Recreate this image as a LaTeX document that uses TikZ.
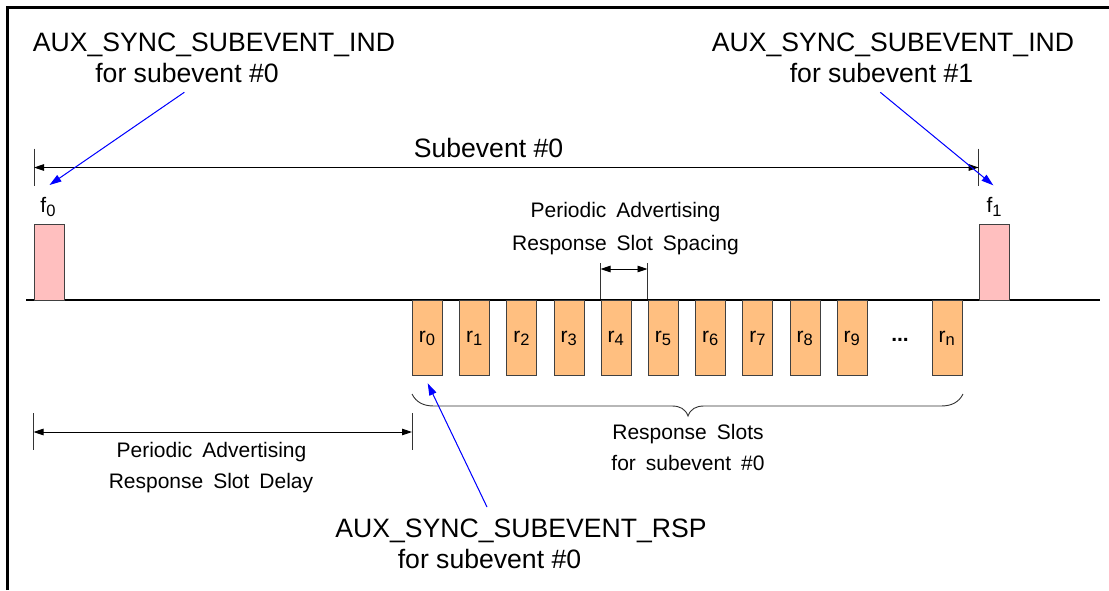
\documentclass[tikz,border=0pt]{standalone}
\usepackage{fontspec}
\setmainfont{Liberation Sans}
\usetikzlibrary{arrows.meta}
\definecolor{slotfill}{HTML}{FFBF80}
\definecolor{pinkfill}{HTML}{FFBFBF}
\definecolor{boxedge}{HTML}{404040}
\definecolor{tickgray}{HTML}{333333}
\definecolor{arrowblue}{HTML}{0000FF}
\newcommand\lowsub[1]{\raisebox{-3.5pt}{\fontsize{16.5}{16.5}\selectfont #1}}
\newcommand\smallfnt{\fontsize{21}{25}\selectfont}
\newcommand\widesp{\spaceskip=10pt plus 1pt\relax}
\tikzset{
  bigtext/.style={font=\fontsize{26.6}{30}\selectfont, inner sep=0pt, anchor=base},
  smalltext/.style={font=\smallfnt, execute at begin node=\widesp, inner sep=0pt, anchor=base},
  slotbox/.style={draw=boxedge, fill=slotfill, line width=0.9pt, minimum width=30pt, minimum height=75.5pt, inner sep=0pt, anchor=north west},
  framebox/.style={draw=boxedge, fill=pinkfill, line width=0.9pt, minimum width=30pt, minimum height=75.5pt, inner sep=0pt, anchor=north west},
  dimline/.style={line width=0.9pt, {Triangle[length=10pt,width=6.5pt]}-{Triangle[length=10pt,width=6.5pt]}},
  tickline/.style={line width=0.9pt, draw=tickgray},
  bluearrow/.style={line width=1pt, draw=arrowblue, -{Triangle[length=12pt,width=7.5pt]}, fill=arrowblue},
}
\begin{document}
\begin{tikzpicture}[x=1pt,y=-1pt]
\useasboundingbox (0,0) rectangle (1109,590);
% outer frame (partially visible)
\draw[line width=2.5pt] (7.7,590) -- (7.7,7.7) -- (1109,7.7);

% time baseline
\coordinate (bl0) at (26,299.5);
\coordinate (bl1) at (1100,299.5);
\draw[line width=2pt] (bl0) -- (bl1);

% advertising frames f0, f1
\node[framebox] (f0box) at (33.5,224) {};
\node[framebox] (f1box) at (979,224) {};
\node[smalltext] (f0lab) at (48,212.5) {f\lowsub{0}};
\node[smalltext] (f1lab) at (994,212.5) {f\lowsub{1}};

% response slots
\foreach \i in {0,...,9} {
  \node[slotbox] (r\i) at ({412+47.2*\i},299.5) {};
  \node[smalltext] (rl\i) at ({427+47.2*\i},342) {r\lowsub{\i}};
}
\node[slotbox] (rn) at (931.7,299.5) {};
\node[smalltext] (rln) at (946.7,342) {r\lowsub{n}};
\node[smalltext] (dots) at (900,341) {\textbf{...}};

% Subevent #0 dimension
\coordinate (seA) at (34,167.5);
\coordinate (seB) at (978.7,167.5);
\coordinate (seAt) at (34,148.5);
\coordinate (seAb) at (34,186);
\coordinate (seBt) at (978.7,148.5);
\coordinate (seBb) at (978.7,186);
\draw[tickline] (seAt) -- (seAb);
\draw[tickline] (seBt) -- (seBb);
\draw[dimline] (seA) -- (seB);
\node[bigtext] (selab) at (488.5,157) {Subevent \#0};

% slot spacing dimension
\coordinate (spA) at (600.5,269);
\coordinate (spB) at (647.5,269);
\coordinate (spAt) at (600.5,263);
\coordinate (spAb) at (600.5,299);
\coordinate (spBt) at (647.5,263);
\coordinate (spBb) at (647.5,299);
\draw[tickline] (spAt) -- (spAb);
\draw[tickline] (spBt) -- (spBb);
\draw[dimline] (spA) -- (spB);
\node[smalltext] (splab1) at (625.5,217) {Periodic Advertising};
\node[smalltext] (splab2) at (625.5,250) {Response Slot Spacing};

% slot delay dimension
\coordinate (dlA) at (33.5,432);
\coordinate (dlB) at (412,432);
\coordinate (dlAt) at (33.5,413);
\coordinate (dlAb) at (33.5,450);
\coordinate (dlBt) at (412,413);
\coordinate (dlBb) at (412,450);
\draw[tickline] (dlAt) -- (dlAb);
\draw[tickline] (dlBt) -- (dlBb);
\draw[dimline] (dlA) -- (dlB);
\node[smalltext] (dllab1) at (211.5,457) {Periodic Advertising};
\node[smalltext] (dllab2) at (211,488.5) {Response Slot Delay};

% brace under response slots
\draw[tickline] (412,394) .. controls (416,402) and (423,406) .. (434,406)
  -- (672,406) .. controls (680,406) and (685.5,409) .. (688,416)
  .. controls (690.5,409) and (696,406) .. (704,406)
  -- (941,406) .. controls (952,406) and (959,402) .. (963,394);
\node[smalltext] (rslab1) at (688,439) {Response Slots};
\node[smalltext] (rslab2) at (688,470.5) {for subevent \#0};

% top-left annotation
\node[bigtext] (ind0a) at (214,51.5) {AUX\_SYNC\_SUBEVENT\_IND};
\node[bigtext] (ind0b) at (187,82) {for subevent \#0};
\coordinate (ind0from) at (184.3,92.3);
\coordinate (ind0to) at (49.5,185);
\draw[bluearrow] (ind0from) -- (ind0to);

% top-right annotation
\node[bigtext] (ind1a) at (893,51.5) {AUX\_SYNC\_SUBEVENT\_IND};
\node[bigtext] (ind1b) at (881.5,82) {for subevent \#1};
\coordinate (ind1from) at (880.3,92.3);
\coordinate (ind1to) at (993.3,185.3);
\draw[bluearrow] (ind1from) -- (ind1to);

% bottom annotation
\node[bigtext] (rspa) at (521,537) {AUX\_SYNC\_SUBEVENT\_RSP};
\node[bigtext] (rspb) at (489.5,568) {for subevent \#0};
\coordinate (rspfrom) at (487,507);
\coordinate (rspto) at (427.7,383.3);
\draw[bluearrow] (rspfrom) -- (rspto);
\end{tikzpicture}
\end{document}
